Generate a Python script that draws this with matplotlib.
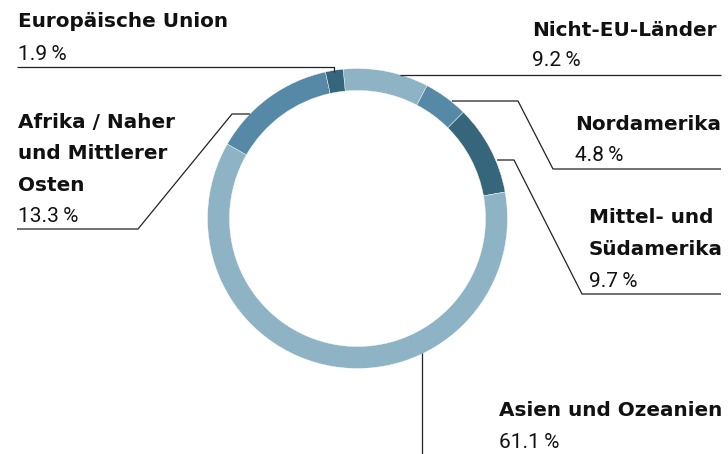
import matplotlib
matplotlib.use("Agg")
import matplotlib.pyplot as plt

# Regions (clockwise from the top) and their shares in percent
regions = ["Nicht-EU-Länder", "Nordamerika", "Mittel- und\nSüdamerika",
           "Asien und Ozeanien", "Afrika / Naher\nund Mittlerer\nOsten",
           "Europäische Union"]
shares = [9.2, 4.8, 9.7, 61.1, 13.3, 1.9]
share_labels = ["9.2\u2009%", "4.8\u2009%", "9.7\u2009%", "61.1\u2009%",
                "13.3\u2009%", "1.9\u2009%"]

light = "#8DB3C5"
medium = "#5689A5"
dark = "#36667C"
colors = [light, medium, dark, light, medium, dark]

W, H = 728, 454
fig = plt.figure(figsize=(W / 100, H / 100), dpi=100)
ax = fig.add_axes([0, 0, 1, 1])


def Y(y):
    # pixel row (from top) -> data y
    return H - y


cx, cy = 357.5, Y(218.5)
ax.pie(shares, colors=colors, radius=150, center=(cx, cy),
       startangle=95.5, counterclock=False,
       wedgeprops=dict(width=22, edgecolor="white", linewidth=0.3))

ax.set_xlim(0, W)
ax.set_ylim(0, H)
ax.set_aspect("equal")
ax.axis("off")

title_kw = dict(fontsize=14.4, fontweight="bold", family="DejaVu Sans",
                color="#111111")
num_kw = dict(fontsize=15, fontweight="normal", family="Roboto",
              color="#111111")
line_kw = dict(color="#222222", linewidth=0.9, solid_capstyle="butt")

# Europäische Union
ax.text(18, Y(27), regions[5], ha="left", va="baseline", **title_kw)
ax.text(18, Y(60), share_labels[5], ha="left", va="baseline", **num_kw)
ax.plot([17, 334, 334], [Y(67), Y(67), Y(72)], **line_kw)

# Nicht-EU-Länder
ax.text(532, Y(36), regions[0], ha="left", va="baseline", **title_kw)
ax.text(532, Y(66), share_labels[0], ha="left", va="baseline", **num_kw)
ax.plot([400, 721], [Y(75), Y(75)], **line_kw)

# Nordamerika
ax.text(575, Y(130), regions[1], ha="left", va="baseline", **title_kw)
ax.text(575, Y(161), share_labels[1], ha="left", va="baseline", **num_kw)
ax.plot([452, 518, 553, 721], [Y(101), Y(101), Y(169), Y(169)], **line_kw)

# Mittel- und Südamerika
ax.text(589, Y(255), regions[2], ha="left", va="baseline",
        linespacing=1.85, **title_kw)
ax.text(589, Y(287), share_labels[2], ha="left", va="baseline", **num_kw)
ax.plot([497, 514, 582, 721], [Y(160), Y(160), Y(294), Y(294)], **line_kw)

# Asien und Ozeanien
ax.text(499, Y(416), regions[3], ha="left", va="baseline", **title_kw)
ax.text(499, Y(448), share_labels[3], ha="left", va="baseline", **num_kw)
ax.plot([422, 422], [Y(353), Y(454)], **line_kw)

# Afrika / Naher und Mittlerer Osten
ax.text(18, Y(191), regions[4], ha="left", va="baseline",
        linespacing=1.85, **title_kw)
ax.text(18, Y(222), share_labels[4], ha="left", va="baseline", **num_kw)
ax.plot([250, 232, 138, 17], [Y(114), Y(114), Y(229), Y(229)], **line_kw)

fig.savefig("out.png", dpi=100)
